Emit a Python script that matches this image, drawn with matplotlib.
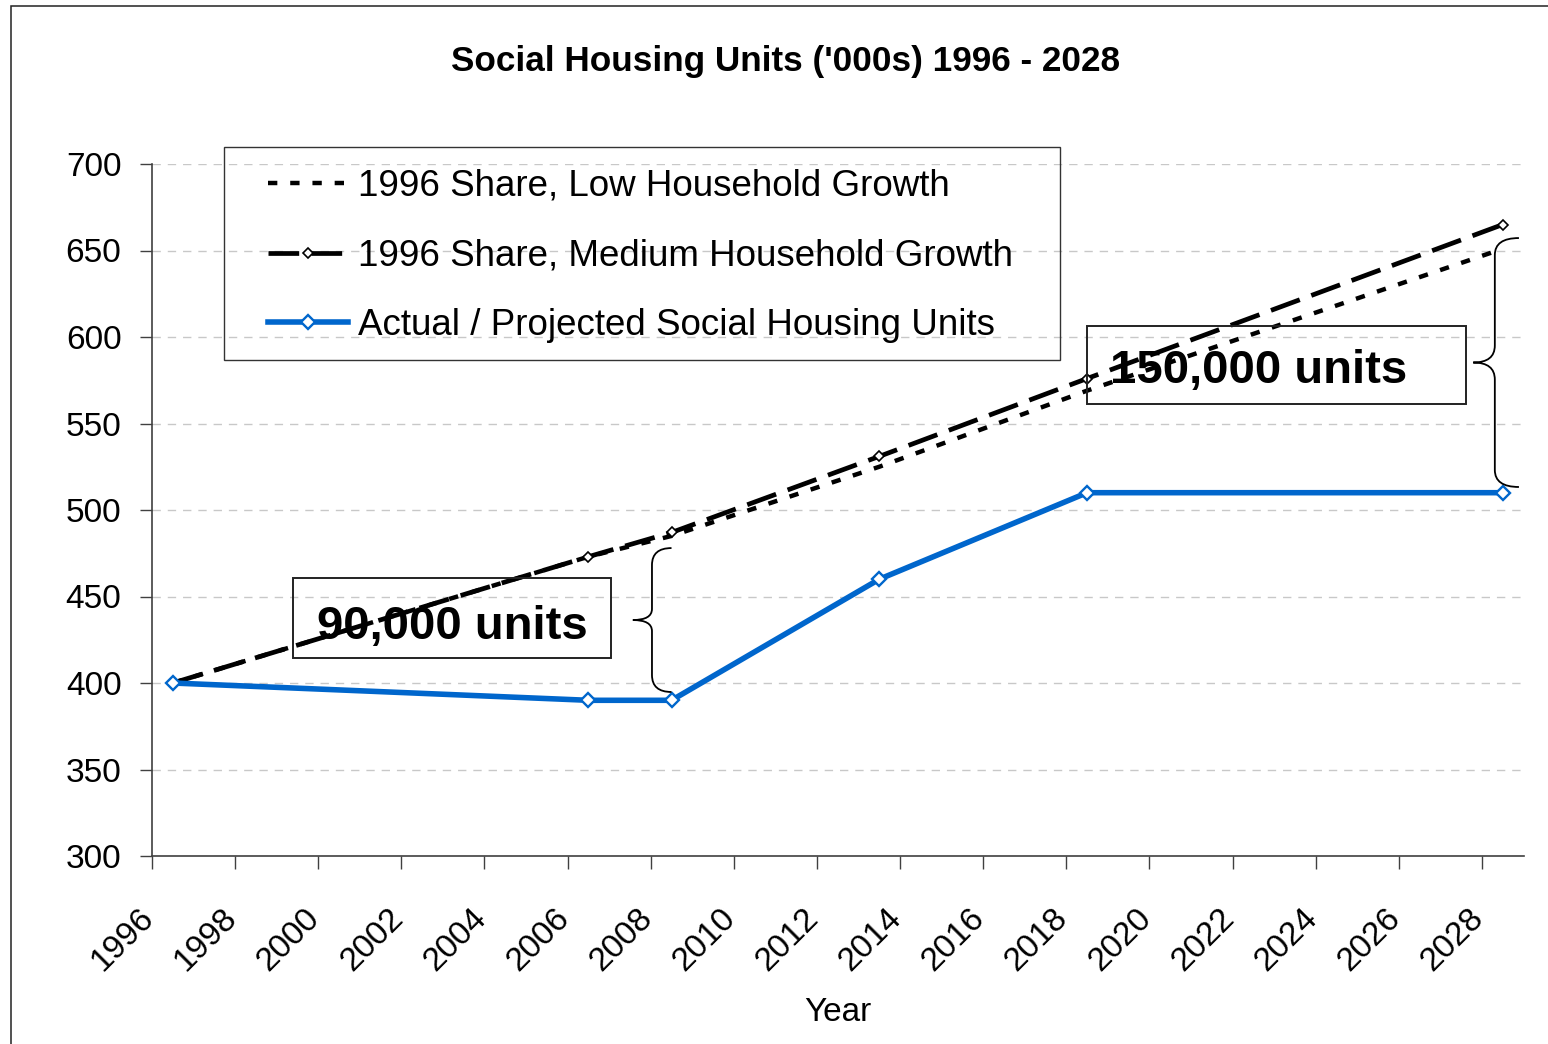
import matplotlib.pyplot as plt
from matplotlib.patches import PathPatch, Rectangle
from matplotlib.path import Path

# ── Series ────────────────────────────────────────────────────────────────
years = [1996, 2006, 2008, 2013, 2018, 2028]
low_growth = [400, 473, 485, 525, 569, 651]
medium_growth = [400, 473, 487, 531, 576, 665]
social_units = [400, 390, 390, 460, 510, 510]

series_labels = [
    "1996 Share, Low Household Growth",
    "1996 Share, Medium Household Growth",
    "Actual / Projected Social Housing Units",
]
tick_years = list(range(1996, 2029, 2))
y_ticks = list(range(300, 701, 50))

TITLE = "Social Housing Units ('000s) 1996 - 2028"
BLUE = "#0066CC"
AXIS_GREY = "#404040"

plt.rcParams["font.family"] = ["Liberation Sans", "DejaVu Sans"]

W, H = 1548, 1044
fig = plt.figure(figsize=(W / 100, H / 100), dpi=100)
fig.patch.set_facecolor("white")


def fig_xy(x, y):
    """Pixel position (from top-left) -> figure fraction."""
    return x / W, 1 - y / H


def curly_brace(ax, x_end, x_spine, x_tip, y_top, y_bot, r_end, r_mid):
    """Vertical curly brace with its point facing left."""
    y_mid = (y_top + y_bot) / 2
    verts = [
        (x_end, y_top), (x_spine, y_top), (x_spine, y_top - r_end),
        (x_spine, y_mid + r_mid),
        (x_spine, y_mid), (x_tip, y_mid),
        (x_spine, y_mid), (x_spine, y_mid - r_mid),
        (x_spine, y_bot + r_end),
        (x_spine, y_bot), (x_end, y_bot),
    ]
    codes = [Path.MOVETO, Path.CURVE3, Path.CURVE3, Path.LINETO,
             Path.CURVE3, Path.CURVE3, Path.CURVE3, Path.CURVE3,
             Path.LINETO, Path.CURVE3, Path.CURVE3]
    ax.add_patch(PathPatch(Path(verts, codes), fill=False, ec="black",
                           lw=1.3, zorder=6))


# chart-area border (runs off the right and bottom edges)
x0, y0 = fig_xy(11, 6)
fig.patches.append(Rectangle((x0, -0.02), 1.05 - x0, y0 + 0.02,
                             transform=fig.transFigure, fill=False,
                             ec="#222222", lw=1.1))

ax = fig.add_axes([152 / W, 1 - 856 / H, (1523.5 - 152) / W, 692 / H])

ax.plot(years, low_growth, color="black", lw=3.2, dashes=(2.1, 2.9),
        label=series_labels[0], zorder=3)
ax.plot(years, medium_growth, color="black", lw=3.4, dashes=(6.5, 2.6),
        marker="D", ms=5.0, mfc="white", mec="black", mew=1.2,
        label=series_labels[1], zorder=4)
ax.plot(years, social_units, color=BLUE, lw=4.0, marker="D", ms=7.0,
        mfc="white", mec=BLUE, mew=1.7, label=series_labels[2], zorder=5)

ax.set_xlim(1995.5, 2028.5)
ax.set_ylim(300, 700)
ax.set_yticks(y_ticks)

# tick marks sit between years; labels go on minor ticks nudged right
ax.set_xticks([y - 0.5 for y in tick_years])
ax.set_xticklabels([])
ax.set_xticks([y - 0.31 for y in tick_years], minor=True)
ax.set_xticklabels([str(y) for y in tick_years], minor=True,
                   rotation=45, ha="right")

ax.yaxis.grid(True, color="#c8c8c8", lw=1.0, linestyle=(0, (6, 5)))
ax.set_axisbelow(True)
for side in ("top", "right"):
    ax.spines[side].set_visible(False)
for side in ("left", "bottom"):
    ax.spines[side].set_color(AXIS_GREY)
    ax.spines[side].set_linewidth(1.2)
ax.tick_params(axis="both", direction="out", length=9, width=1.0,
               color=AXIS_GREY, labelsize=24)
ax.tick_params(axis="y", pad=13)
ax.tick_params(axis="x", which="minor", length=0, pad=33.5, labelsize=24)

ax.set_xlabel("Year", fontsize=24)
ax.xaxis.set_label_coords(0.5, -0.204)

# legend: entries drawn frameless, box drawn separately
ax.legend(loc="upper left", bbox_to_anchor=fig_xy(268, 169),
          bbox_transform=fig.transFigure, frameon=False, fontsize=26.5,
          handlelength=2.17, handletextpad=0.27, labelspacing=0.94,
          borderpad=0, borderaxespad=0)
lx, ly = fig_xy(224, 360)
fig.patches.append(Rectangle((lx, ly), (1060 - 224) / W, 213 / H,
                             transform=fig.transFigure, fill=False,
                             ec="#333333", lw=1.0, zorder=10))

# gap annotations
ax.add_patch(Rectangle((1998.9, 414.4), 7.65, 46.3, fill=False,
                       ec="#222222", lw=1.4, zorder=6))
ax.text(2002.72, 425.4, "90,000 units", ha="center", va="baseline",
        fontsize=34, fontweight="bold", zorder=7)
curly_brace(ax, 2008.0, 2007.53, 2007.07, 478.0, 394.8, 9.8, 6.4)

ax.add_patch(Rectangle((2018.0, 561.3), 9.12, 45.0, fill=False,
                       ec="#222222", lw=1.4, zorder=6))
ax.text(2018.55, 573.4, "150,000 units", ha="left", va="baseline",
        fontsize=34, fontweight="bold", zorder=7)
curly_brace(ax, 2028.39, 2027.81, 2027.29, 657.2, 513.3, 9.8, 9.8)

tx, ty = fig_xy(786, 71)
fig.text(tx, ty, TITLE, ha="center", va="baseline", fontsize=25.3,
         fontweight="bold")

fig.savefig("out.png", dpi=100, facecolor="white")
